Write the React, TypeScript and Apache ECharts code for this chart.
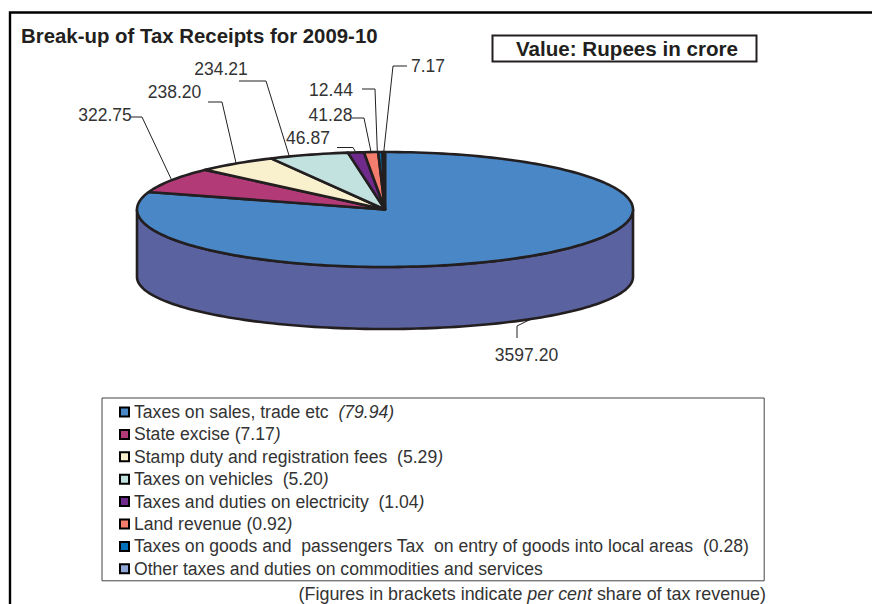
import React, { useEffect, useRef } from "react";
import * as echarts from "echarts";

const categories = [
  "Taxes on sales, trade etc",
  "State excise",
  "Stamp duty and registration fees",
  "Taxes on vehicles",
  "Taxes and duties on electricity",
  "Land revenue",
  "Taxes on goods and passengers Tax on entry of goods into local areas",
  "Other taxes and duties on commodities and services",
];
const values = [3597.2, 322.75, 238.2, 234.21, 46.87, 41.28, 12.44, 7.17];
const valueLabels = ["3597.20", "322.75", "238.20", "234.21", "46.87", "41.28", "12.44", "7.17"];
const legendTexts = [
  "Taxes on sales, trade etc  {i|(79.94)}",
  "State excise (7.17{i|)}",
  "Stamp duty and registration fees  (5.29{i|)}",
  "Taxes on vehicles  (5.20{i|)}",
  "Taxes and duties on electricity  (1.04{i|)}",
  "Land revenue (0.92{i|)}",
  "Taxes on goods and  passengers Tax  on entry of goods into local areas  (0.28)",
  "Other taxes and duties on commodities and services",
];
const colors = ["#4a87c6", "#b23a76", "#f9f1cd", "#c2e2df", "#6f2a8c", "#f47d6d", "#0072bc", "#8fa6d6"];

const FONT = "'Liberation Sans', Arial, sans-serif";
const INK = "#231f20";
const CX = 385, CY = 209.5, RX = 248, RY = 57.5;
const BOTTOM_CY = 277, BOTTOM_RY = 52;

// Layout of the value labels: label centre, elbow points, angular nudge of the anchor on the rim.
const leaderLayout = [
  { lx: 526.5, ly: 355, elbows: [[517, 338], [517, 326]], shift: 0, side: true },
  { lx: 105, ly: 115, elbows: [[131, 117], [142, 117]], shift: 0 },
  { lx: 174.5, ly: 92, elbows: [[208, 102], [222, 102]], shift: 0 },
  { lx: 221, ly: 69, elbows: [[239, 81], [266, 81]], shift: -4.7 },
  { lx: 308, ly: 138, elbows: [[337, 147.5], [353, 147.5]], shift: 0 },
  { lx: 330.5, ly: 115, elbows: [[352, 118], [364, 118]], shift: 0 },
  { lx: 331, ly: 90, elbows: [[362, 89], [375, 89]], shift: -0.7 },
  { lx: 428, ly: 66, elbows: [[407, 66], [393, 66]], shift: 0 },
];

const total = values.reduce((a, b) => a + b, 0);

function rim(deg: number, bottom = false): number[] {
  const t = (deg * Math.PI) / 180;
  return bottom
    ? [CX + RX * Math.sin(t), BOTTOM_CY - BOTTOM_RY * Math.cos(t)]
    : [CX + RX * Math.sin(t), CY - RY * Math.cos(t)];
}

function sliceAngles(i: number): [number, number] {
  const before = values.slice(0, i).reduce((a, b) => a + b, 0);
  return [(before / total) * 360, ((before + values[i]) / total) * 360];
}

function arcPoints(a: number, b: number, bottom = false): number[][] {
  const n = Math.max(2, Math.ceil(Math.abs(b - a) / 1.5));
  const pts: number[][] = [];
  for (let k = 0; k <= n; k++) pts.push(rim(a + ((b - a) * k) / n, bottom));
  return pts;
}

function makeRender(i: number) {
  return () => {
    const [a, b] = sliceAngles(i);
    const children: any[] = [];
    const stroke = { stroke: INK, lineWidth: 2.6, lineJoin: "round" };
    if (i === 0) {
      children.push({
        type: "polygon",
        shape: { points: [...arcPoints(90, 270), ...arcPoints(270, 90, true)] },
        style: { fill: "#5a629f", ...stroke },
      });
    }
    children.push({
      type: "polygon",
      shape: { points: [[CX, CY], ...arcPoints(a, b)] },
      style: { fill: colors[i], ...stroke },
    });
    const lay = leaderLayout[i];
    const anchor = rim((a + b) / 2 + lay.shift, !!lay.side);
    children.push({
      type: "polyline",
      shape: { points: [...lay.elbows, anchor] },
      style: { fill: null, stroke: INK, lineWidth: 1 },
    });
    children.push({
      type: "text",
      style: {
        x: lay.lx,
        y: lay.ly,
        text: valueLabels[i],
        align: "center",
        verticalAlign: "middle",
        fill: "#333333",
        font: `17.5px ${FONT}`,
      },
    });
    return { type: "group", children };
  };
}

export default function App() {
  const ref = useRef<HTMLDivElement>(null);
  useEffect(() => {
    const chart = echarts.init(ref.current!, null, { renderer: "svg" });
    chart.setOption({
      animation: false,
      backgroundColor: "#ffffff",
      title: {
        text: "Break-up of Tax Receipts for 2009-10",
        left: 21,
        top: 26,
        padding: 0,
        textStyle: { fontFamily: FONT, fontSize: 20.4, fontWeight: "bold", color: INK },
      },
      legend: {
        data: categories,
        orient: "vertical",
        left: 102,
        top: 398,
        padding: [5, 15, 3, 17],
        itemGap: 4.4,
        itemWidth: 9,
        itemHeight: 9,
        icon: "rect",
        selectedMode: false,
        borderColor: "#444444",
        borderWidth: 1,
        backgroundColor: "#ffffff",
        itemStyle: { borderColor: "#000000", borderWidth: 2 },
        formatter: (name: string) => legendTexts[categories.indexOf(name)],
        textStyle: {
          fontFamily: FONT,
          fontSize: 17.6,
          color: "#333333",
          rich: { i: { fontStyle: "italic", fontFamily: FONT, fontSize: 17.6, color: "#333333" } },
        },
      },
      series: categories.map((name, i) => ({
        type: "custom",
        name,
        coordinateSystem: "none",
        silent: true,
        itemStyle: { color: colors[i] },
        data: [values[i]],
        renderItem: makeRender(i),
      })),
      graphic: [
        {
          type: "polyline",
          silent: true,
          shape: { points: [[10, 604], [10, 12.5], [872, 12.5]] },
          style: { fill: null, stroke: "#000000", lineWidth: 2.4 },
        },
        {
          type: "rect",
          silent: true,
          shape: { x: 492.5, y: 35.5, width: 264, height: 26 },
          style: { fill: "#ffffff", stroke: INK, lineWidth: 2 },
        },
        {
          type: "text",
          silent: true,
          style: {
            x: 627,
            y: 48.5,
            text: "Value: Rupees in crore",
            align: "center",
            verticalAlign: "middle",
            fill: INK,
            font: `bold 20.6px ${FONT}`,
          },
        },
        {
          type: "text",
          silent: true,
          style: {
            x: 766,
            y: 594,
            text: "(Figures in brackets indicate {i|per cent} share of tax revenue)",
            align: "right",
            verticalAlign: "middle",
            fill: "#333333",
            font: `17.9px ${FONT}`,
            rich: { i: { fontStyle: "italic", fontFamily: FONT, fontSize: 17.9, fill: "#333333" } },
          },
        },
      ],
    });
    return () => chart.dispose();
  }, []);
  return (
    <div
      ref={ref}
      style={{ position: "fixed", left: 0, top: 0, width: 872, height: 604, background: "#fff" }}
    />
  );
}
